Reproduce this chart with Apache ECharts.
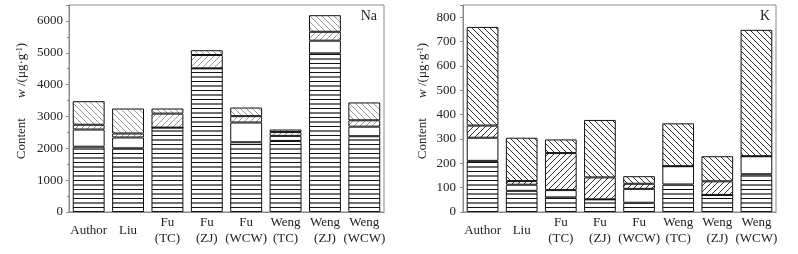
<!DOCTYPE html>
<html><head><meta charset="utf-8">
<script src="https://cdn.jsdelivr.net/npm/echarts@6/dist/echarts.min.js"></script>
<style>html,body{margin:0;padding:0;background:#fff}#c{width:798px;height:254px}</style>
</head><body><div id="c"></div>
<script>
const categories = ['Author','Liu','Fu\n(TC)','Fu\n(ZJ)','Fu\n(WCW)','Weng\n(TC)','Weng\n(ZJ)','Weng\n(WCW)'];
// Na segments (bottom to top)
const naHoriz = [2050, 2000, 2650, 4510, 2190, 2230, 4980, 2380];
const naBlank = [540, 340, 0, 0, 620, 160, 400, 300];
const naSlash = [150, 125, 440, 420, 200, 120, 280, 200];
const naBack  = [740, 785, 160, 150, 270, 80, 520, 560];
// K segments (bottom to top)
const kHoriz = [210, 87, 60, 52, 38, 113, 70, 155];
const kBlank = [95, 25, 30, 0, 57, 75, 0, 74];
const kSlash = [50, 15, 152, 90, 21, 0, 56, 0];
const kBack  = [405, 178, 56, 236, 31, 176, 103, 519];
const naTicks = [0, 1000, 2000, 3000, 4000, 5000, 6000];
const kTicks = [0, 100, 200, 300, 400, 500, 600, 700, 800];

function pat(type, color, lw) {
  const c = document.createElement('canvas');
  if (type === 'h') {
    c.width = 8; c.height = 9;
    const g = c.getContext('2d');
    g.fillStyle = '#fff'; g.fillRect(0,0,8,9);
    g.fillStyle = color; g.fillRect(0,0,8,1);
    g.globalAlpha = 0.6; g.fillRect(0,4,8,2);
  } else {
    const s = 6;
    c.width = s; c.height = s;
    const g = c.getContext('2d');
    g.fillStyle = '#fff'; g.fillRect(0,0,s,s);
    g.strokeStyle = color; g.lineWidth = lw;
    g.beginPath();
    for (let k = -1; k <= 1; k++) {
      if (type === 'b') { g.moveTo(k*s, 0); g.lineTo(k*s + s, s); }
      else { g.moveTo(k*s, s); g.lineTo(k*s + s, 0); }
    }
    g.stroke();
  }
  return {image: c, repeat: 'repeat'};
}
const font = '"Liberation Serif", "Times New Roman", serif';
const txt = '#222';
const frame = '#8a8a8a';
function xAx(i) {
  return {type:'category', gridIndex:i, data:categories,
    axisLine:{lineStyle:{color:frame}},
    axisTick:{inside:true, length:3, lineStyle:{color:frame}},
    axisLabel:{fontFamily:font, fontSize:13, color:txt, margin:19, verticalAlign:'middle', lineHeight:16, interval:0}};
}
function yAx(i, max, iv, minor, margin, ticks) {
  return {type:'value', gridIndex:i, min:0, max:max, interval:iv,
    splitLine:{show:false},
    axisLine:{show:true, lineStyle:{color:frame}},
    axisTick:{show:true, length:3, lineStyle:{color:frame}},
    minorTick:{show:minor, splitNumber:2, length:2, lineStyle:{color:frame}},
    axisLabel:{fontFamily:font, fontSize:13, color:txt, margin:margin,
      formatter: v => ticks.indexOf(v) >= 0 ? String(v) : ''}};
}
function ser(name, data, ax, stack, fill) {
  return {name, type:'bar', data, xAxisIndex:ax, yAxisIndex:ax, stack, barCategoryGap:'19%',
    itemStyle:{color:fill, borderColor:'#111', borderWidth:1}, silent:true, animation:false};
}
const chart = echarts.init(document.getElementById('c'), null, {renderer:'canvas'});
const titleRich = {
  base:{fontFamily:font, fontSize:13, fill:txt},
  i:{fontFamily:font, fontSize:13, fontStyle:'italic', fill:txt},
  s:{fontFamily:font, fontSize:8, fill:txt, verticalAlign:'top', padding:[0,0,5,0]}
};
chart.setOption({
  animation:false,
  grid:[
    {left:69, right:414, top:5, bottom:42, show:true, borderColor:frame, borderWidth:1},
    {left:463, right:22, top:5, bottom:42, show:true, borderColor:frame, borderWidth:1}
  ],
  xAxis:[xAx(0), xAx(1)],
  yAxis:[yAx(0, 6500, 1000, true, 6, naTicks), yAx(1, 850, 100, false, 7, kTicks)],
  series:[
    ser('naH', naHoriz, 0, 'na', pat('h', '#111')),
    ser('naW', naBlank, 0, 'na', '#fff'),
    ser('naS', naSlash, 0, 'na', pat('s', '#999', 1)),
    ser('naB', naBack, 0, 'na', pat('b', '#999', 1)),
    ser('kH', kHoriz, 1, 'k', pat('h', '#111')),
    ser('kW', kBlank, 1, 'k', '#fff'),
    ser('kS', kSlash, 1, 'k', pat('s', '#333', 1)),
    ser('kB', kBack, 1, 'k', pat('b', '#333', 1))
  ],
  graphic:[
    {type:'text', x:22, y:101, rotation:Math.PI/2,
      style:{text:'{base|Content}      {i|w} {base|/(μg·g}{s|-1}{base|)}', rich:titleRich, align:'center', verticalAlign:'middle'}},
    {type:'text', x:423, y:101, rotation:Math.PI/2,
      style:{text:'{base|Content}      {i|w} {base|/(μg·g}{s|-1}{base|)}', rich:titleRich, align:'center', verticalAlign:'middle'}},
    {type:'text', x:377, y:16, style:{text:'Na', fontFamily:font, fontSize:14, fill:txt, align:'right', verticalAlign:'middle'}},
    {type:'text', x:770, y:16, style:{text:'K', fontFamily:font, fontSize:14, fill:txt, align:'right', verticalAlign:'middle'}}
  ]
});
</script></body></html>
